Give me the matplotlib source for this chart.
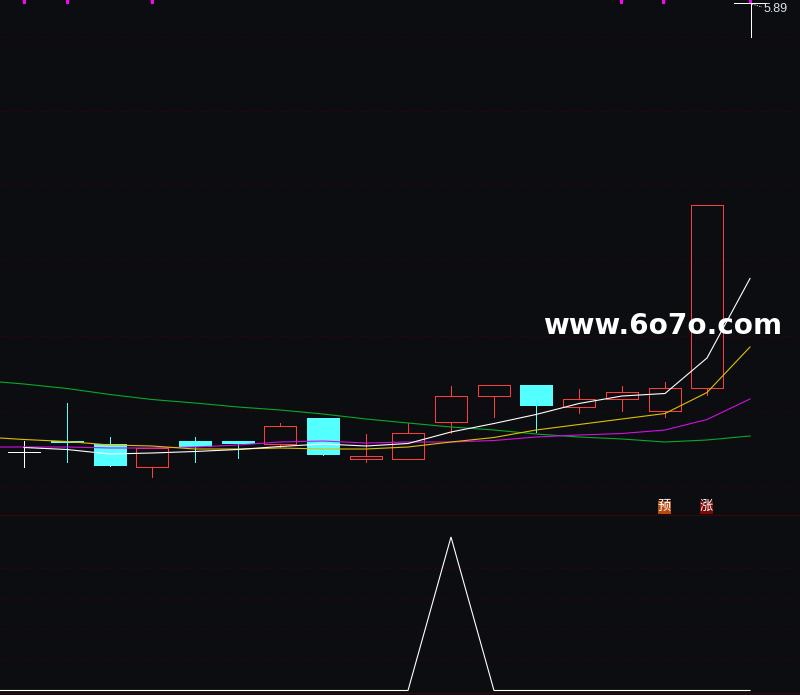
import matplotlib
matplotlib.use("Agg")
import matplotlib.pyplot as plt

x_pos = [24, 67, 110, 152, 195, 238, 280, 323, 366, 408, 451, 494, 536, 579, 622, 665, 707]
body_top = [452, 441, 444, 448.5, 441, 441, 426.5, 418, 456.5, 433.5, 396.5, 385.5, 385, 399.5, 392.5, 388.5, 205.5]
body_bot = [453, 443.5, 466.5, 467.5, 447.5, 444, 444.5, 455.5, 459.5, 459.5, 422.5, 396.5, 406.5, 407.5, 399.5, 411.5, 388.5]
high = [441, 403, 437, 448.5, 437, 441, 423, 418, 434, 423, 386, 385.5, 385, 389, 386, 382, 205.5]
low = [467, 462.5, 466.5, 477.5, 462.5, 458.5, 447, 455.5, 462.5, 459.5, 433, 417.5, 432.5, 413, 411, 417.5, 395.5]
kind = ["doji", "down", "down", "up", "down", "down", "up", "down", "up", "up", "up", "up", "down", "up", "up", "up", "up"]

ma_x = x_pos + [750]
ma_white = [448, 450, 454.5, 453.5, 452, 450, 447, 444.5, 446.5, 444, 432.5, 424, 415, 404, 396.5, 394, 358.5, 279]
ma_yellow = [440, 442, 445.5, 446.5, 449.5, 449.5, 448.5, 449.5, 449.5, 447.5, 442.5, 438, 430.5, 425, 419.5, 414, 393, 347.5]
ma_magenta = [447.5, 447.5, 448.5, 448.5, 447.5, 445.5, 442.5, 441.5, 443.5, 442.5, 442.5, 441, 437.5, 435.5, 434, 430.5, 420, 399.5]
ma_green = [384.5, 389, 395, 400, 403.5, 407.5, 410.5, 414.5, 419.5, 423.5, 427.5, 430.5, 434.5, 437.5, 439.5, 442.5, 440.5, 436.5]

sig_x = [0, 408, 451, 494, 750]
sig_y = [691, 691, 537.5, 691, 691]

dotted_y = [37.5, 111.5, 185.5, 260.5, 336.5, 411.5, 486.5, 568.5, 598.5, 629.5, 659.5]
solid_y = [515.5, 693.5]
top_marks = [24, 67, 152, 621, 663, 750]

BG = "#0c0d10"
RED = "#ff3c3c"
CYAN = "#54ffff"
LW = 0.72

fig = plt.figure(figsize=(8, 6.95), dpi=100, facecolor=BG)
ax = fig.add_axes([0, 0, 1, 1], facecolor=BG)
ax.set_xlim(0, 800)
ax.set_ylim(695.5, 0.5)
ax.axis("off")


def line(xs, ys, color, **kw):
    ax.plot(xs, ys, color=color, lw=LW, antialiased=False, **kw)


# smooth version for the sloping curves, aliased ones come out two pixels wide
def curve(xs, ys, color):
    ax.plot(xs, ys, color=color, lw=0.8, solid_joinstyle="miter")


for y in dotted_y:
    line([0, 800], [y, y], "#340508", ls=(0, (2, 4)))
for y in solid_y:
    line([0, 800], [y, y], "#3a0606")

# candles
for i in range(len(x_pos)):
    x = x_pos[i]
    if kind[i] == "down":
        line([x, x], [high[i], low[i]], CYAN)
        ax.bar(x, body_bot[i] - body_top[i], bottom=body_top[i], width=33, color=CYAN, lw=0)
    elif kind[i] == "doji":
        line([x, x], [high[i], low[i]], "white")
        line([x - 16, x + 16], [body_top[i], body_top[i]], "white")
    else:
        line([x, x], [high[i], body_top[i]], RED)
        line([x, x], [body_bot[i], low[i]], RED)
        line([x - 16, x + 16, x + 16, x - 16, x - 16],
             [body_top[i], body_top[i], body_bot[i], body_bot[i], body_top[i]], RED)

# moving averages
curve([0] + ma_x, [382.5] + ma_green, "#0aa82a")
curve([0] + ma_x, [447.5] + ma_magenta, "#d010e0")
curve([0] + ma_x, [438.5] + ma_yellow, "#e0c000")
curve(ma_x, ma_white, "white")

# lower panel
curve(sig_x, sig_y, "white")

# markers along the top edge
for x in top_marks:
    ax.bar(x, 5, bottom=-1, width=3, color="#ff00ff", lw=0)

# max price crosshair
line([734, 766], [3.5, 3.5], "white")
line([750.5, 750.5], [3.5, 37], "white")
ax.plot([752, 762], [4.5, 7.5], color="white", lw=0.6, ls=(0, (1.5, 1.5)))
ax.text(764, 9.5, "5.89", color="#d8e4f0", fontsize=9, family="Liberation Sans", va="center", ha="left")

# signal badges
ax.bar(664.5, 13, bottom=501, width=13, color="#b84a10", lw=0)
ax.bar(706.5, 13, bottom=501, width=13, color="#7a0a0a", lw=0)
ax.text(664.5, 507, "预", color="white", fontsize=9.5, family="Noto Sans CJK SC", ha="center", va="center")
ax.text(706.5, 507, "涨", color="white", fontsize=9.5, family="Noto Sans CJK SC", ha="center", va="center")

# site watermark
ax.text(662.5, 327, "www.6o7o.com", color="white", fontsize=20.1, fontweight="bold", family="DejaVu Sans",
        ha="center", va="center")

fig.savefig("out.png", dpi=100, facecolor=BG)
